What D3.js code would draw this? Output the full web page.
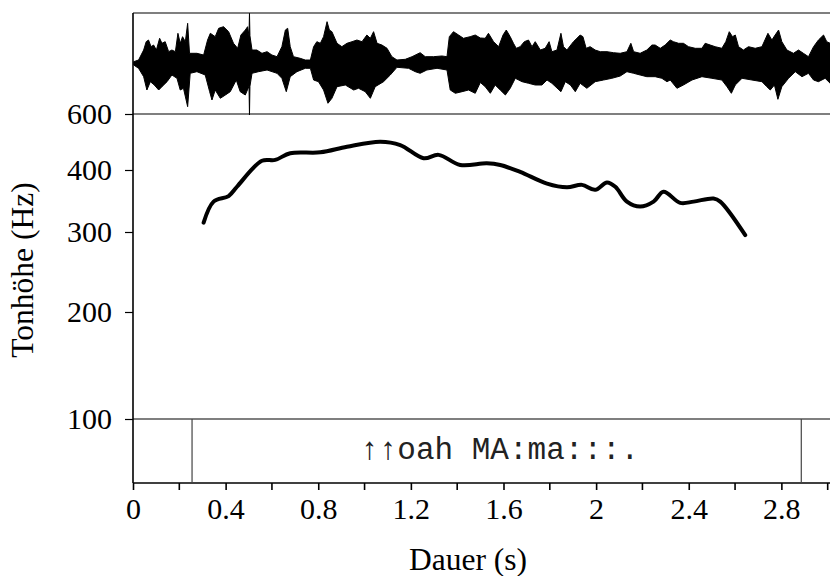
<!DOCTYPE html>
<html>
<head>
<meta charset="utf-8">
<script src="https://cdn.jsdelivr.net/npm/d3@7/dist/d3.min.js"></script>
<style>
  body { margin: 0; background: #fff; }
  svg { display: block; }
</style>
</head>
<body>
<div class="canvas"></div>
<script>
// ---------------- data
// pitch contour: time (s) / F0 (Hz)
const pitchTime = [0.305, 0.348, 0.413, 0.449, 0.557, 0.614, 0.679, 0.809, 0.924, 1.068, 1.154, 1.255, 1.320, 1.413, 1.528, 1.586, 1.672, 1.788, 1.874, 1.939, 1.996, 2.047, 2.083, 2.133, 2.190, 2.248, 2.291, 2.363, 2.421, 2.507, 2.536, 2.644];
const pitchHz   = [315, 349, 358, 373, 433, 436, 460, 463, 483, 501, 489, 442, 454, 418, 424, 418, 397, 378, 372, 376, 368, 380, 373, 349, 341, 349, 365, 347, 349, 354, 349, 296];

// waveform envelope: [time (s), amplitude]
const waveUpper = [[0.003,0.036],[0.024,0.069],[0.046,0.267],[0.057,0.432],[0.067,0.465],[0.078,0.333],[0.089,0.366],[0.101,0.267],[0.115,0.499],[0.125,0.400],[0.139,0.432],[0.154,0.234],[0.168,0.267],[0.183,0.234],[0.194,0.598],[0.204,0.400],[0.214,0.531],[0.226,0.432],[0.236,0.796],[0.244,0.202],[0.276,0.202],[0.305,0.168],[0.322,0.465],[0.334,0.598],[0.355,0.531],[0.370,0.697],[0.391,0.729],[0.413,0.630],[0.434,0.400],[0.452,0.301],[0.466,0.564],[0.485,0.663],[0.495,0.729],[0.501,0.55],[0.503,0.994],[0.505,0.55],[0.514,0.267],[0.535,0.267],[0.557,0.202],[0.579,0.234],[0.600,0.168],[0.622,0.135],[0.643,0.333],[0.658,0.663],[0.668,0.697],[0.679,0.333],[0.693,0.135],[0.722,0.103],[0.744,0.069],[0.766,0.069],[0.780,0.333],[0.794,0.432],[0.809,0.400],[0.823,0.531],[0.838,0.828],[0.848,0.663],[0.859,0.630],[0.881,0.400],[0.902,0.333],[0.924,0.400],[0.946,0.432],[0.967,0.465],[0.989,0.432],[1.010,0.564],[1.025,0.499],[1.039,0.630],[1.054,0.400],[1.075,0.366],[1.097,0.301],[1.118,0.135],[1.140,0.069],[1.176,0.083],[1.205,0.135],[1.240,0.214],[1.262,0.135],[1.298,0.135],[1.334,0.149],[1.356,0.135],[1.366,0.531],[1.384,0.630],[1.406,0.564],[1.427,0.499],[1.456,0.531],[1.478,0.564],[1.500,0.505],[1.521,0.499],[1.535,0.598],[1.557,0.432],[1.579,0.333],[1.598,0.564],[1.612,0.663],[1.629,0.531],[1.643,0.400],[1.655,0.301],[1.672,0.333],[1.690,0.432],[1.708,0.465],[1.723,0.333],[1.737,0.432],[1.759,0.267],[1.780,0.301],[1.797,0.432],[1.809,0.234],[1.831,0.267],[1.848,0.598],[1.859,0.333],[1.874,0.267],[1.902,0.432],[1.917,0.499],[1.931,0.564],[1.943,0.531],[1.957,0.301],[1.974,0.333],[1.996,0.267],[2.018,0.234],[2.047,0.234],[2.075,0.214],[2.104,0.202],[2.133,0.234],[2.150,0.400],[2.162,0.234],[2.190,0.202],[2.219,0.267],[2.241,0.366],[2.255,0.366],[2.277,0.301],[2.298,0.366],[2.320,0.465],[2.334,0.432],[2.356,0.400],[2.377,0.400],[2.399,0.333],[2.428,0.301],[2.457,0.301],[2.471,0.400],[2.493,0.366],[2.514,0.333],[2.543,0.301],[2.560,0.432],[2.575,0.630],[2.589,0.531],[2.601,0.564],[2.615,0.333],[2.636,0.267],[2.658,0.333],[2.687,0.301],[2.716,0.333],[2.742,0.598],[2.759,0.465],[2.773,0.564],[2.788,0.663],[2.802,0.432],[2.824,0.267],[2.852,0.202],[2.874,0.267],[2.895,0.202],[2.917,0.135],[2.939,0.333],[2.960,0.465],[2.982,0.564],[2.996,0.432],[3.011,0.400]];
const waveLower = [[0.003,-0.030],[0.024,-0.095],[0.046,-0.261],[0.060,-0.525],[0.075,-0.360],[0.092,-0.426],[0.111,-0.525],[0.125,-0.459],[0.147,-0.360],[0.168,-0.228],[0.190,-0.293],[0.204,-0.525],[0.218,-0.491],[0.236,-0.855],[0.247,-0.194],[0.276,-0.162],[0.312,-0.228],[0.331,-0.558],[0.341,-0.723],[0.355,-0.525],[0.377,-0.689],[0.399,-0.624],[0.420,-0.558],[0.446,-0.327],[0.463,-0.558],[0.485,-0.624],[0.501,-0.45],[0.503,-1.020],[0.505,-0.45],[0.514,-0.194],[0.542,-0.162],[0.579,-0.129],[0.622,-0.194],[0.643,-0.293],[0.662,-0.558],[0.679,-0.261],[0.708,-0.162],[0.744,-0.095],[0.766,-0.095],[0.780,-0.327],[0.801,-0.360],[0.823,-0.525],[0.842,-0.788],[0.859,-0.689],[0.881,-0.459],[0.917,-0.426],[0.953,-0.525],[0.974,-0.491],[1.003,-0.558],[1.025,-0.689],[1.046,-0.459],[1.082,-0.360],[1.111,-0.228],[1.140,-0.075],[1.190,-0.095],[1.219,-0.162],[1.240,-0.194],[1.269,-0.129],[1.313,-0.095],[1.356,-0.129],[1.370,-0.525],[1.392,-0.590],[1.421,-0.558],[1.449,-0.525],[1.478,-0.590],[1.500,-0.376],[1.521,-0.459],[1.543,-0.590],[1.564,-0.426],[1.586,-0.525],[1.608,-0.624],[1.629,-0.491],[1.651,-0.293],[1.680,-0.360],[1.708,-0.392],[1.737,-0.426],[1.766,-0.426],[1.788,-0.327],[1.809,-0.392],[1.848,-0.558],[1.867,-0.360],[1.889,-0.426],[1.910,-0.558],[1.931,-0.392],[1.960,-0.491],[1.996,-0.360],[2.032,-0.327],[2.068,-0.293],[2.104,-0.248],[2.133,-0.162],[2.162,-0.194],[2.190,-0.228],[2.219,-0.261],[2.255,-0.261],[2.284,-0.293],[2.306,-0.360],[2.320,-0.327],[2.349,-0.491],[2.377,-0.426],[2.414,-0.327],[2.457,-0.261],[2.500,-0.293],[2.543,-0.327],[2.565,-0.459],[2.584,-0.590],[2.601,-0.426],[2.630,-0.293],[2.673,-0.327],[2.716,-0.360],[2.737,-0.459],[2.752,-0.525],[2.770,-0.426],[2.785,-0.709],[2.802,-0.459],[2.831,-0.293],[2.860,-0.162],[2.889,-0.261],[2.917,-0.194],[2.939,-0.327],[2.960,-0.360],[2.989,-0.293],[3.011,-0.392]];

// text tier
const tierBounds = [0.255, 2.886];
const tierLabel = "↑↑oah MA:ma:::.";

// axes
const hzTicks = [100, 200, 300, 400, 600];
const majorTicks = [0, 0.4, 0.8, 1.2, 1.6, 2, 2.4, 2.8];
const minorTicks = [0.2, 0.6, 1.0, 1.4, 1.8, 2.2, 2.6, 3.0];

//------------------------ dimensions
const W = 830, H = 576;
const plot = { left: 133, right: 830, waveTop: 13, pitchTop: 114, pitchBottom: 419, axisY: 483 };
const serif = '"Liberation Serif", "Times New Roman", serif';

const svg = d3.select('.canvas')
  .append('svg')
  .attr('width', W)
  .attr('height', H);

//------------------------ scales
const x = d3.scaleLinear()
  .domain([0, 3.01])
  .range([plot.left, plot.right]);

// the frequency axis of the original is warped, so map it through its tick positions
const y = d3.scaleLinear()
  .domain(hzTicks)
  .range([419, 312, 232, 170, 114]);

const amp = d3.scaleLinear()
  .domain([-1, 1])
  .range([plot.pitchTop, plot.waveTop]);

//------------------------ waveform (upper envelope, then lower envelope backwards)
const wavePts = waveUpper.concat(waveLower.slice().reverse());
svg.append('path')
  .attr('d', d3.line().x(d => x(d[0])).y(d => amp(d[1]))(wavePts) + 'Z')
  .attr('fill', '#000')
  .attr('stroke', '#000')
  .attr('stroke-width', 1)
  .attr('stroke-linejoin', 'bevel');

//------------------------ frame lines
const lines = [
  [plot.left, plot.waveTop, plot.right, plot.waveTop, 1.2],
  [plot.left, plot.pitchTop, plot.right, plot.pitchTop, 1.2],
  [plot.left, plot.pitchBottom, plot.right, plot.pitchBottom, 1.2],
  [plot.left, plot.axisY, plot.right, plot.axisY, 1.6],
  [plot.left, plot.waveTop, plot.left, plot.axisY, 1.6]
];
svg.append('g').selectAll('line')
  .data(lines)
  .join('line')
  .attr('x1', d => d[0]).attr('y1', d => d[1])
  .attr('x2', d => d[2]).attr('y2', d => d[3])
  .attr('stroke', '#000')
  .attr('stroke-width', d => d[4]);

//------------------------ y axis
const yAxis = svg.append('g')
  .attr('transform', `translate(${plot.left}, 0)`)
  .call(d3.axisLeft(y).tickValues(hzTicks).tickSize(8).tickPadding(13).tickFormat(d3.format('d')));
yAxis.select('.domain').remove();
yAxis.selectAll('line').attr('stroke', '#000').attr('stroke-width', 1.2);
yAxis.selectAll('text')
  .attr('font-family', serif)
  .attr('font-size', 30)
  .attr('fill', '#000');

//------------------------ x axis
const xAxis = svg.append('g')
  .attr('transform', `translate(0, ${plot.axisY})`)
  .call(d3.axisBottom(x).tickValues(majorTicks).tickSize(7).tickPadding(8)
    .tickFormat(d => String(+d.toFixed(1))));
xAxis.select('.domain').remove();
xAxis.selectAll('line').attr('stroke', '#000').attr('stroke-width', 1.6);
xAxis.selectAll('text')
  .attr('font-family', serif)
  .attr('font-size', 30)
  .attr('fill', '#000');

svg.append('g').selectAll('line')
  .data(minorTicks)
  .join('line')
  .attr('x1', d => x(d)).attr('x2', d => x(d))
  .attr('y1', plot.axisY).attr('y2', plot.axisY + 7)
  .attr('stroke', '#000')
  .attr('stroke-width', 1.6);

//------------------------ pitch contour
const pitchData = pitchTime.map((t, i) => ({ t: t, hz: pitchHz[i] }));
svg.append('path')
  .datum(pitchData)
  .attr('d', d3.line().x(d => x(d.t)).y(d => y(d.hz)).curve(d3.curveCatmullRom.alpha(0.5)))
  .attr('fill', 'none')
  .attr('stroke', '#000')
  .attr('stroke-width', 4)
  .attr('stroke-linecap', 'round')
  .attr('stroke-linejoin', 'round');

//------------------------ text tier
svg.append('g').selectAll('line')
  .data(tierBounds)
  .join('line')
  .attr('x1', d => x(d)).attr('x2', d => x(d))
  .attr('y1', plot.pitchBottom).attr('y2', plot.axisY)
  .attr('stroke', '#444')
  .attr('stroke-width', 1.2);

svg.append('text')
  .attr('x', x((tierBounds[0] + tierBounds[1]) / 2) + 3)
  .attr('y', 459)
  .attr('text-anchor', 'middle')
  .attr('font-family', '"Liberation Mono", "Courier New", monospace')
  .attr('font-size', 31)
  .attr('fill', '#222')
  .text(tierLabel);

//------------------------ axis titles
svg.append('text')
  .attr('x', 468)
  .attr('y', 570)
  .attr('text-anchor', 'middle')
  .attr('font-family', serif)
  .attr('font-size', 31.5)
  .text('Dauer (s)');

svg.append('text')
  .attr('transform', 'translate(33, 270) rotate(-90)')
  .attr('text-anchor', 'middle')
  .attr('font-family', serif)
  .attr('font-size', 31.5)
  .text('Tonhöhe (Hz)');
</script>
</body>
</html>
